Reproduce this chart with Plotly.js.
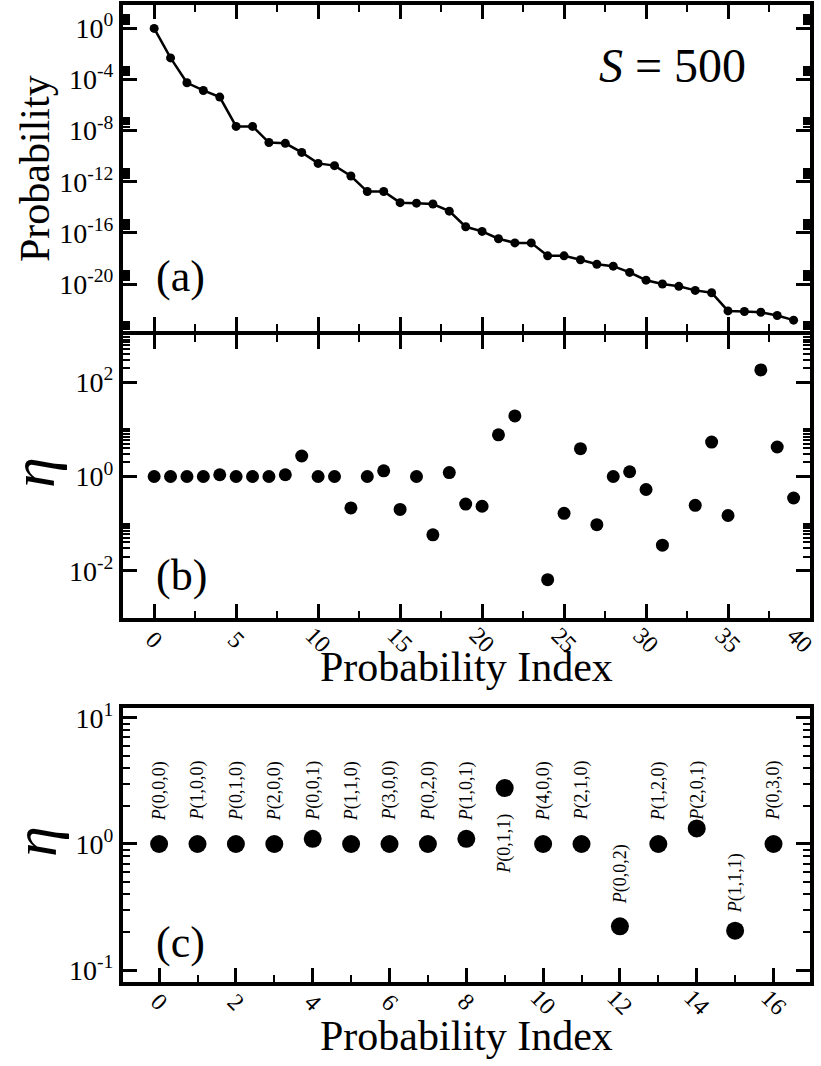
<!DOCTYPE html>
<html><head><meta charset="utf-8">
<script src="https://cdn.plot.ly/plotly-3.0.1.min.js"></script>
<style>
html,body{margin:0;padding:0;background:#fff}
#chart{width:821px;height:1066px}
</style>
</head><body><div id="chart"></div>
<script>
// ---------- data ----------
const probIndex = [0,1,2,3,4,5,6,7,8,9,10,11,12,13,14,15,16,17,18,19,20,21,22,23,24,25,26,27,28,29,30,31,32,33,34,35,36,37,38,39];
const probability = [0.95, 4.7e-3, 5.4e-5, 1.35e-5, 4.1e-6, 2.1e-8, 2.1e-8, 1.15e-9, 1.0e-9, 1.95e-10,
  2.7e-11, 1.8e-11, 2.8e-12, 1.7e-13, 1.7e-13, 2.3e-14, 2.1e-14, 1.8e-14, 5.0e-15, 3.0e-16,
  1.3e-16, 3.5e-17, 1.65e-17, 1.65e-17, 1.6e-18, 1.6e-18, 7.9e-19, 3.5e-19, 2.5e-19, 8.1e-20,
  2.0e-20, 1.0e-20, 6.6e-21, 3.2e-21, 2.1e-21, 7.9e-23, 7.2e-23, 6.3e-23, 3.5e-23, 1.5e-23];
const eta = [1, 1, 1, 1, 1.09, 1, 1, 1, 1.09, 2.72,
  1, 1, 0.216, 1, 1.32, 0.2, 1, 0.058, 1.21, 0.26,
  0.234, 7.66, 19.2, null, 0.0065, 0.166, 3.89, 0.095, 1.0, 1.26,
  0.53, 0.035, null, 0.245, 5.37, 0.149, null, 182, 4.22, 0.35];
const stateIndex = [0,1,2,3,4,5,6,7,8,9,10,11,12,13,14,15,16];
const stateEta = [1, 1, 1, 1, 1.1, 1, 1, 1, 1.1, 2.78, 1, 1, 0.222, 1, 1.33, 0.205, 1];
const stateLabels = ["(0,0,0)","(1,0,0)","(0,1,0)","(2,0,0)","(0,0,1)","(1,1,0)","(3,0,0)","(0,2,0)","(1,0,1)",
  "(0,1,1)","(4,0,0)","(2,1,0)","(0,0,2)","(1,2,0)","(2,0,1)","(1,1,1)","(0,3,0)"];
const probTickVals = [1, 1e-4, 1e-8, 1e-12, 1e-16, 1e-20];
const probTickText = ["10<sup>0</sup>","10<sup>-4</sup>","10<sup>-8</sup>","10<sup>-12</sup>","10<sup>-16</sup>","10<sup>-20</sup>"];
const etaTickVals = [1e2, 1, 1e-2];
const etaTickText = ["10<sup>2</sup>","10<sup>0</sup>","10<sup>-2</sup>"];
const stateTickVals = [10, 1, 0.1];
const stateTickText = ["10<sup>1</sup>","10<sup>0</sup>","10<sup>-1</sup>"];
const indexTicksB = [0, 5, 10, 15, 20, 25, 30, 35, 40];
const indexTicksC = [0, 2, 4, 6, 8, 10, 12, 14, 16];

// ---------- layout helpers ----------
const W = 821, H = 1066;
const FONT = "Liberation Serif";
const px = v => v / W;
const py = v => 1 - v / H;
function minorLog(exps) {
  const out = [];
  exps.forEach(e => { for (let k = 2; k <= 10; k++) out.push(k * Math.pow(10, e)); });
  return out;
}
// label vertical centres (log10 units on panel c axis)
const labelLogY = stateIndex.map(i => {
  if (i === 9) return 0.0;
  if (i === 12) return -0.24;
  if (i === 15) return -0.31;
  return 0.42;
});

const common = {
  showline: true, linewidth: 4, linecolor: '#000', showgrid: false, zeroline: false,
  ticks: 'inside', ticklen: 14, tickwidth: 3, tickcolor: '#000',
  tickfont: {family: FONT, size: 28, color: '#000'}
};

const traces = [
  {x: probIndex, y: probability, xaxis: 'x', yaxis: 'y', mode: 'lines+markers', type: 'scatter',
   line: {color: '#000', width: 2.5}, marker: {color: '#000', size: 9}},
  {x: probIndex, y: eta, xaxis: 'x2', yaxis: 'y2', mode: 'markers', type: 'scatter',
   marker: {color: '#000', size: 13}},
  {x: stateIndex, y: stateEta, xaxis: 'x3', yaxis: 'y3', mode: 'markers', type: 'scatter',
   marker: {color: '#000', size: 18}}
];

const xdom = [px(123), px(810)];
const layout = {
  width: W, height: H, showlegend: false,
  margin: {l: 0, r: 0, t: 0, b: 0},
  paper_bgcolor: '#fff', plot_bgcolor: '#fff',
  font: {family: FONT, color: '#000'},
  xaxis: Object.assign({}, common, {domain: xdom, anchor: 'y', range: [-1.9, 40], tick0: 0, dtick: 5,
    mirror: 'ticks', showticklabels: false,
    minor: {ticks: 'inside', dtick: 2.5, tick0: 0, ticklen: 7, tickwidth: 2, tickcolor: '#000'}}),
  yaxis: Object.assign({}, common, {domain: [py(331), py(5)], anchor: 'x', type: 'log', range: [-23.67, 1.81],
    tickmode: 'array', tickvals: probTickVals, ticktext: probTickText, mirror: 'ticks',
    minor: {ticks: 'inside', tickmode: 'array', tickvals: minorLog([0,-4,-8,-12,-16,-20,-24]), ticklen: 7, tickwidth: 2, tickcolor: '#000'}}),
  xaxis2: Object.assign({}, common, {domain: xdom, anchor: 'y2', range: [-1.9, 40], tick0: 0, dtick: 5,
    mirror: 'ticks', showticklabels: false,
    minor: {ticks: 'inside', dtick: 2.5, tick0: 0, ticklen: 7, tickwidth: 2, tickcolor: '#000'}}),
  yaxis2: Object.assign({}, common, {domain: [py(618), py(335)], anchor: 'x2', type: 'log', range: [-3, 3],
    tickmode: 'array', tickvals: etaTickVals, ticktext: etaTickText, mirror: 'ticks',
    minor: {ticks: 'inside', tickmode: 'array', tickvals: minorLog([-2, 0, 2]), ticklen: 7, tickwidth: 2, tickcolor: '#000'}}),
  xaxis3: Object.assign({}, common, {domain: xdom, anchor: 'y3', range: [-0.94, 16.95], tick0: 0, dtick: 2,
    mirror: true, showticklabels: false,
    minor: {ticks: 'inside', dtick: 1, tick0: 0, ticklen: 7, tickwidth: 2, tickcolor: '#000'}}),
  yaxis3: Object.assign({}, common, {domain: [py(982), py(708)], anchor: 'x3', type: 'log', range: [-1.095, 1.079],
    tickmode: 'array', tickvals: stateTickVals, ticktext: stateTickText, mirror: 'ticks',
    minor: {ticks: 'inside', tickmode: 'array', tickvals: minorLog([-1, 0]), ticklen: 7, tickwidth: 2, tickcolor: '#000'}}),
  annotations: []
};

const ann = layout.annotations;
function paperText(text, x, y, size, angle) {
  ann.push({text: text, xref: 'paper', yref: 'paper', x: px(x), y: py(y), xanchor: 'center', yanchor: 'middle',
    showarrow: false, textangle: angle || 0, font: {family: FONT, size: size, color: '#000'}});
}
paperText('Probability', 35, 169, 42, -90);
paperText('<i>η</i>', 33, 473, 62, -90);
paperText('<i>η</i>', 35, 842, 62, -90);
paperText('Probability Index', 466, 667, 42, 0);
paperText('Probability Index', 466, 1036, 42, 0);
paperText('<i>S</i> = 500', 672, 66, 48, 0);
paperText('(a)', 180, 276, 44, 0);
paperText('(b)', 181, 575, 44, 0);
paperText('(c)', 180, 942, 44, 0);
// rotated x tick labels, centred on their ticks
indexTicksB.forEach(v => {
  ann.push({text: String(v), xref: 'x2', yref: 'paper', x: v, y: py(640), xanchor: 'center', yanchor: 'middle',
    xshift: v === 40 ? -10 : 0,
    showarrow: false, textangle: 45, font: {family: FONT, size: 24, color: '#000'}});
});
indexTicksC.forEach(v => {
  ann.push({text: String(v), xref: 'x3', yref: 'paper', x: v, y: py(1002), xanchor: 'center', yanchor: 'middle',
    showarrow: false, textangle: 45, font: {family: FONT, size: 24, color: '#000'}});
});
stateIndex.forEach((i, k) => {
  ann.push({text: '<i>P</i>' + stateLabels[k], xref: 'x3', yref: 'y3', x: i, y: labelLogY[k],
    xanchor: 'center', yanchor: 'middle', showarrow: false, textangle: -90,
    font: {family: FONT, size: 18, color: '#000'}});
});

Plotly.newPlot('chart', traces, layout, {staticPlot: true, displayModeBar: false});
</script></body></html>
